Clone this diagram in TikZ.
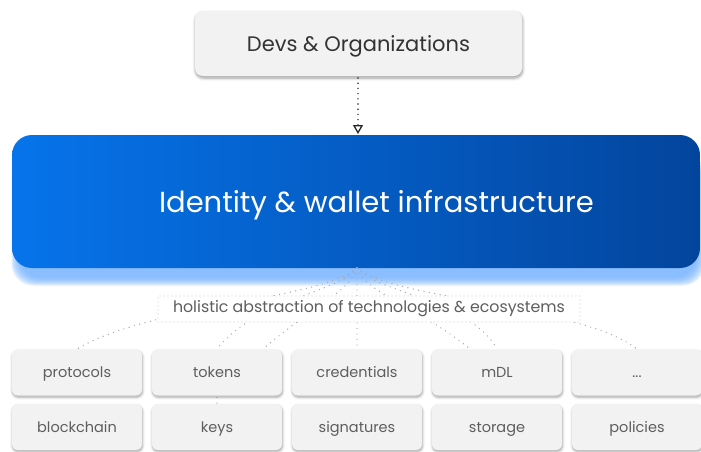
\documentclass[tikz,border=0pt]{standalone}
\usepackage{fontspec}
\setmainfont{Poppins}
\usetikzlibrary{arrows.meta,shadows.blur}
\definecolor{boxfill}{HTML}{F2F2F2}
\definecolor{blueL}{HTML}{0674EB}
\definecolor{blueR}{HTML}{03459D}
\definecolor{glow}{HTML}{6FAEFF}
\definecolor{dotgray}{HTML}{A8A8A8}
\definecolor{labgray}{HTML}{5E5E5E}
\tikzset{
  graybox/.style={rounded corners=6pt, fill=boxfill, minimum width=130pt, minimum height=46pt, inner sep=0pt,
    text=labgray, font=\fontsize{14.5}{16}\selectfont, text height=14pt, text depth=3.5pt,
    blur shadow={shadow blur steps=6, shadow xshift=0.5pt, shadow yshift=-1.8pt, shadow blur radius=2.5pt, shadow opacity=35}},
  fan/.style={draw=dotgray, line width=1.4pt, line cap=round, dash pattern=on 0pt off 5.5pt},
}
\begin{document}
\begin{tikzpicture}[x=1pt,y=-1pt]
\useasboundingbox (0,0) rectangle (701,451);
% glow under blue box
\foreach \d in {0,1.5,3,4.5,6,7.5}{
  \fill[glow, opacity=0.24, rounded corners=22pt] (19-\d,160-\d) rectangle (697+\d,278+\d);
}
% top box
\node[rounded corners=8pt, fill=boxfill, minimum width=327pt, minimum height=65pt, inner sep=0pt,
  text=black!80, font=\fontsize{21}{24}\selectfont, text height=19pt, text depth=4pt,
  blur shadow={shadow blur steps=6, shadow xshift=0.5pt, shadow yshift=-2pt, shadow blur radius=3pt, shadow opacity=40}]
  (devs) at (358.5,43.5) {Devs \& Organizations};
% blue box
\node[rounded corners=20pt, left color=blueL, right color=blueR, draw=none, minimum width=688pt, minimum height=133pt, inner sep=0pt]
  (infra) at (356,201.5) {};
\node[text=white, font=\fontsize{29}{32}\selectfont, text height=21pt, text depth=6pt, anchor=center] (infratext) at (376.5,205) {Identity \& wallet infrastructure};
% arrow
\draw[black!85, line width=1.6pt, line cap=round, dash pattern=on 0pt off 5.2pt, -{Triangle[open, length=9pt, width=10pt, line width=1.3pt]}]
  (358,78) -- (358,134);
% fan of dotted connectors
\coordinate (hub) at (357,268);
\draw[fan] (hub) .. controls (320,300) and (150,305) .. (77,349);
\draw[fan] (hub) .. controls (340,292) and (255,300) .. (217,349);
\draw[fan] (hub) .. controls (350,292) and (305,312) .. (263,349);
\draw[fan] (hub) -- (357,349);
\draw[fan] (hub) .. controls (364,292) and (420,308) .. (470,349);
\draw[fan] (hub) .. controls (375,292) and (470,300) .. (497,349);
\draw[fan] (hub) .. controls (395,300) and (580,305) .. (637,349);
\draw[fan] (217,392) -- (217,404);
% label
\node[fill=white, draw=black!20, line width=1.1pt, dash pattern=on 0pt off 4pt, line cap=round,
  minimum width=422pt, minimum height=26pt, inner sep=0pt, text=labgray, font=\fontsize{15.8}{18}\selectfont,
  text height=11pt, text depth=3.5pt]
  (abs) at (369,309) {holistic abstraction of technologies \& ecosystems};
% boxes
\node[graybox] (protocols) at (77,372.5) {protocols};
\node[graybox] (tokens) at (217,372.5) {tokens};
\node[graybox] (credentials) at (357,372.5) {credentials};
\node[graybox] (mdl) at (497,372.5) {mDL};
\node[graybox] (more) at (637,372.5) {...};
\node[graybox] (blockchain) at (77,427) {blockchain};
\node[graybox] (keys) at (217,427) {keys};
\node[graybox] (signatures) at (357,427) {signatures};
\node[graybox] (storage) at (497,427) {storage};
\node[graybox] (policies) at (637,427) {policies};
\end{tikzpicture}
\end{document}
